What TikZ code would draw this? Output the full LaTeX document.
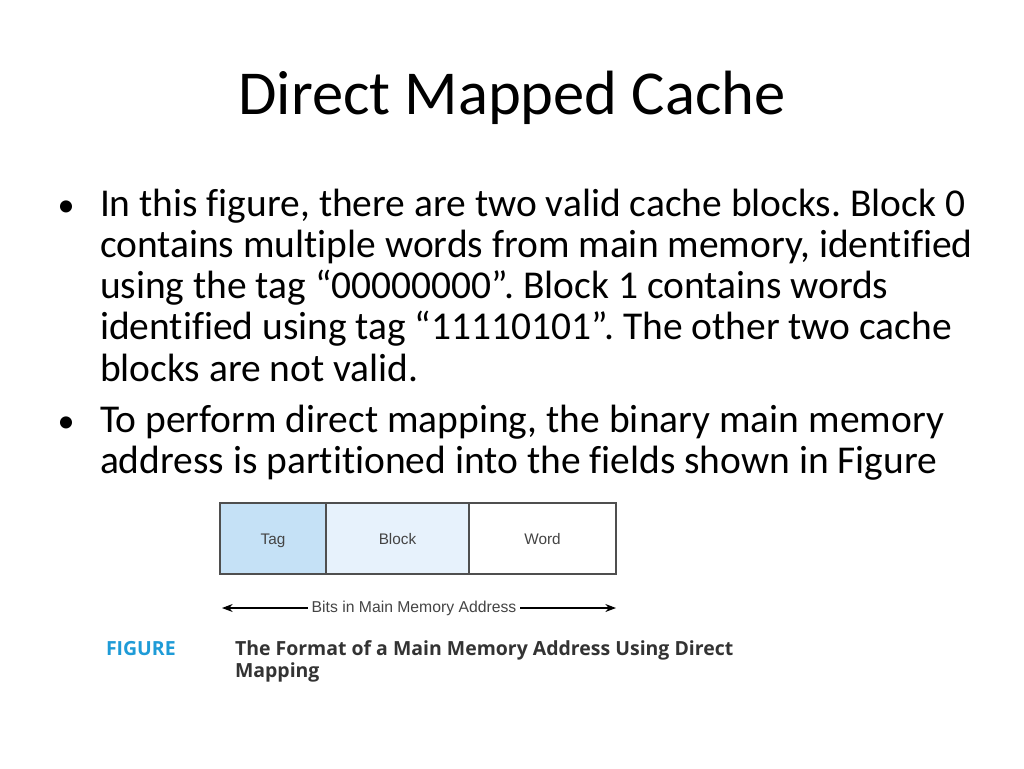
\documentclass[tikz,border=0pt]{standalone}
\usepackage{fontspec}
\setmainfont{Carlito}[Ligatures=NoCommon]
\newfontfamily\figfont{Liberation Sans}
\newfontfamily\capfont{Open Sans}
\usetikzlibrary{arrows.meta}
\definecolor{tagblue}{HTML}{C5E1F6}
\definecolor{blockblue}{HTML}{E7F2FC}
\definecolor{figcyan}{HTML}{1E9BD7}
\definecolor{boxline}{HTML}{4F4F4F}
\definecolor{figtext}{HTML}{444444}
\definecolor{captext}{HTML}{333333}
\frenchspacing

\begin{document}
\begin{tikzpicture}[x=0.75pt, y=-0.75pt,
    every node/.style={inner sep=0pt, outer sep=0pt},
    line/.style={anchor=base west, font=\fontsize{29.6}{34}\selectfont},
    bullet/.style={anchor=base, font=\fontsize{25.6}{30}\selectfont},
    field/.style={draw=boxline, line width=0.8pt, minimum height=53.25pt,
        text height=8.6pt, text depth=0pt,
        font=\figfont\fontsize{11.5}{13}\selectfont, text=figtext},
    caption/.style={anchor=base west, font=\capfont\bfseries\fontsize{14.6}{17}\selectfont}]
    \useasboundingbox[fill=white] (0,0) rectangle (1024,768);

    \node (title) at (512,98) {\fontsize{46.9}{56}\selectfont Direct Mapped Cache};

    % first bullet
    \node[bullet] (b_a) at (66,216) {\textbullet};
    \node[line] (l_a) at (100,216) {In this figure, there are two valid cache blocks. Block 0};
    \node[line] (l_b) at (100,257) {contains multiple words from main memory, identified};
    \node[line] (l_c) at (100,298) {using the tag “00000000”. Block 1 contains words};
    \node[line] (l_d) at (100,339) {identified using tag “11110101”. The other two cache};
    \node[line] (l_e) at (100,381) {blocks are not valid.};

    % second bullet
    \node[bullet] (b_b) at (66,432) {\textbullet};
    \node[line] (l_f) at (100,432) {To perform direct mapping, the binary main memory};
    \node[line] (l_g) at (100,473) {address is partitioned into the fields shown in Figure};

    % address fields
    \node[field, fill=tagblue, minimum width=79.5pt] (tag) at (273,538.5) {Tag};
    \node[field, fill=blockblue, minimum width=107.25pt, anchor=west] (block) at (tag.east) {Block};
    \node[field, fill=white, minimum width=110.25pt, anchor=west] (word) at (block.east) {Word};

    \coordinate (bits_l) at (222,608);
    \coordinate (bits_r) at (616,608);
    \node[font=\figfont\fontsize{11.8}{13}\selectfont, text=figtext, fill=white, inner xsep=3pt] (bits) at (414,608) {Bits in Main Memory Address};
    \draw[-{Stealth[length=8pt, width=6pt]}, line width=0.8pt] (bits) -- (bits_l);
    \draw[-{Stealth[length=8pt, width=6pt]}, line width=0.8pt] (bits) -- (bits_r);

    % caption
    \node[caption, text=figcyan] (fig) at (106,655) {FIGURE};
    \node[caption, text=captext] (cap_a) at (235,655) {The Format of a Main Memory Address Using Direct};
    \node[caption, text=captext] (cap_b) at (235,677) {Mapping};
\end{tikzpicture}
\end{document}
